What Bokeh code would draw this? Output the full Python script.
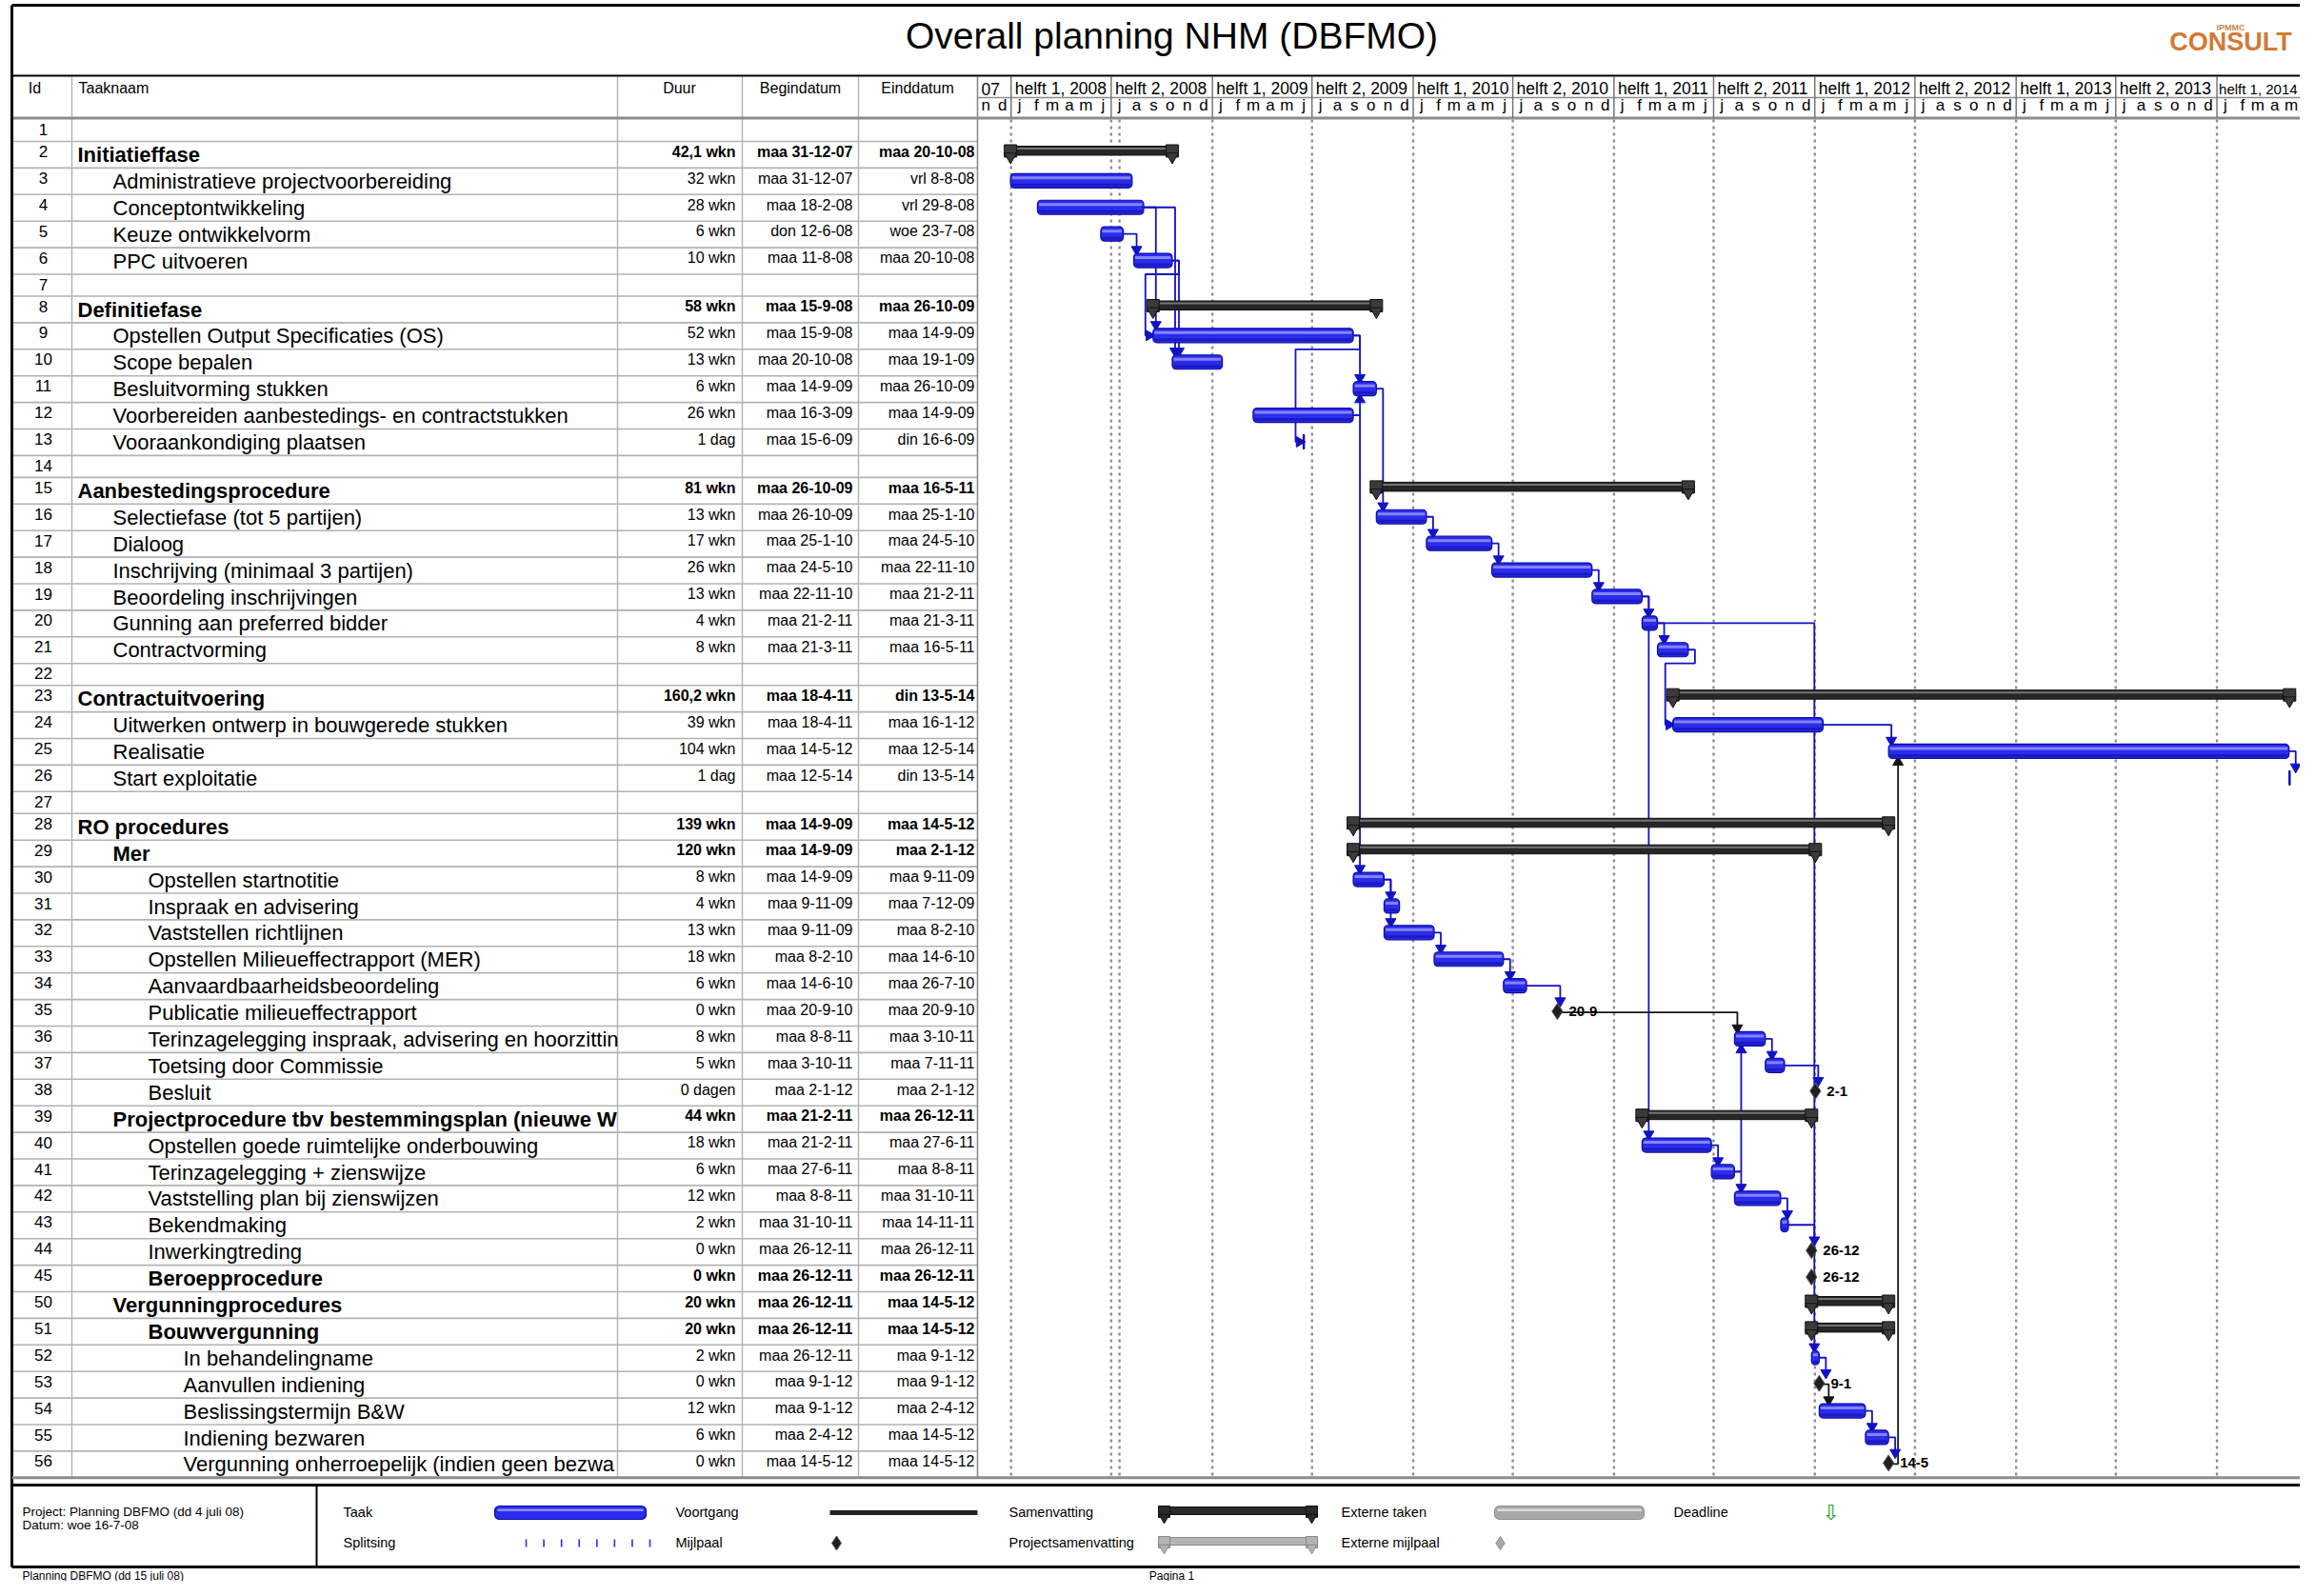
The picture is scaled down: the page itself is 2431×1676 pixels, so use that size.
import datetime as dt
import numpy as np
from bokeh.plotting import figure
from bokeh.models import Range1d
from bokeh.core.properties import value
from bokeh.embed import file_html
from bokeh.resources import INLINE

# ---------------------------------------------------------------- data
TITLE = "Overall planning NHM (DBFMO)"
COLUMN_HEADERS = ["Id", "Taaknaam", "Duur", "Begindatum", "Einddatum"]

TASK_IDS = [1, 2, 3, 4, 5, 6, 7, 8, 9, 10, 11, 12, 13, 14, 15, 16, 17, 18, 19, 20,
            21, 22, 23, 24, 25, 26, 27, 28, 29, 30, 31, 32, 33, 34, 35, 36, 37, 38,
            39, 40, 41, 42, 43, 44, 45, 50, 51, 52, 53, 54, 55, 56]
TASK_NAMES = [
    "", "Initiatieffase", "Administratieve projectvoorbereiding", "Conceptontwikkeling",
    "Keuze ontwikkelvorm", "PPC uitvoeren", "", "Definitiefase",
    "Opstellen Output Specificaties (OS)", "Scope bepalen", "Besluitvorming stukken",
    "Voorbereiden aanbestedings- en contractstukken", "Vooraankondiging plaatsen", "",
    "Aanbestedingsprocedure", "Selectiefase (tot 5 partijen)", "Dialoog",
    "Inschrijving (minimaal 3 partijen)", "Beoordeling inschrijvingen",
    "Gunning aan preferred bidder", "Contractvorming", "", "Contractuitvoering",
    "Uitwerken ontwerp in bouwgerede stukken", "Realisatie", "Start exploitatie", "",
    "RO procedures", "Mer", "Opstellen startnotitie", "Inspraak en advisering",
    "Vaststellen richtlijnen", "Opstellen Milieueffectrapport (MER)",
    "Aanvaardbaarheidsbeoordeling", "Publicatie milieueffectrapport",
    "Terinzagelegging inspraak, advisering en hoorzittin", "Toetsing door Commissie",
    "Besluit", "Projectprocedure tbv bestemmingsplan (nieuwe W",
    "Opstellen goede ruimtelijke onderbouwing", "Terinzagelegging + zienswijze",
    "Vaststelling plan bij zienswijzen", "Bekendmaking", "Inwerkingtreding",
    "Beroepprocedure", "Vergunningprocedures", "Bouwvergunning", "In behandelingname",
    "Aanvullen indiening", "Beslissingstermijn B&W", "Indiening bezwaren",
    "Vergunning onherroepelijk (indien geen bezwa"]
TASK_LEVELS = [0, 1, 2, 2, 2, 2, 0, 1, 2, 2, 2, 2, 2, 0, 1, 2, 2, 2, 2, 2, 2, 0, 1, 2, 2, 2,
               0, 1, 2, 3, 3, 3, 3, 3, 3, 3, 3, 3, 2, 3, 3, 3, 3, 3, 3, 2, 3, 4, 4, 4, 4, 4]
TASK_KINDS = ["blank", "summary", "task", "task", "task", "task", "blank", "summary",
              "task", "task", "task", "task", "task", "blank", "summary", "task", "task",
              "task", "task", "task", "task", "blank", "summary", "task", "task", "task",
              "blank", "summary", "summary", "task", "task", "task", "task", "task",
              "milestone", "task", "task", "milestone", "summary", "task", "task", "task",
              "task", "milestone", "milestone", "summary", "summary", "task", "milestone",
              "task", "task", "milestone"]
BOLD_EXTRA_IDS = [45]
DURATIONS = ["", "42,1 wkn", "32 wkn", "28 wkn", "6 wkn", "10 wkn", "", "58 wkn", "52 wkn",
             "13 wkn", "6 wkn", "26 wkn", "1 dag", "", "81 wkn", "13 wkn", "17 wkn", "26 wkn",
             "13 wkn", "4 wkn", "8 wkn", "", "160,2 wkn", "39 wkn", "104 wkn", "1 dag", "",
             "139 wkn", "120 wkn", "8 wkn", "4 wkn", "13 wkn", "18 wkn", "6 wkn", "0 wkn",
             "8 wkn", "5 wkn", "0 dagen", "44 wkn", "18 wkn", "6 wkn", "12 wkn", "2 wkn",
             "0 wkn", "0 wkn", "20 wkn", "20 wkn", "2 wkn", "0 wkn", "12 wkn", "6 wkn", "0 wkn"]
BEGIN_LABELS = ["", "maa 31-12-07", "maa 31-12-07", "maa 18-2-08", "don 12-6-08", "maa 11-8-08",
                "", "maa 15-9-08", "maa 15-9-08", "maa 20-10-08", "maa 14-9-09", "maa 16-3-09",
                "maa 15-6-09", "", "maa 26-10-09", "maa 26-10-09", "maa 25-1-10", "maa 24-5-10",
                "maa 22-11-10", "maa 21-2-11", "maa 21-3-11", "", "maa 18-4-11", "maa 18-4-11",
                "maa 14-5-12", "maa 12-5-14", "", "maa 14-9-09", "maa 14-9-09", "maa 14-9-09",
                "maa 9-11-09", "maa 9-11-09", "maa 8-2-10", "maa 14-6-10", "maa 20-9-10",
                "maa 8-8-11", "maa 3-10-11", "maa 2-1-12", "maa 21-2-11", "maa 21-2-11",
                "maa 27-6-11", "maa 8-8-11", "maa 31-10-11", "maa 26-12-11", "maa 26-12-11",
                "maa 26-12-11", "maa 26-12-11", "maa 26-12-11", "maa 9-1-12", "maa 9-1-12",
                "maa 2-4-12", "maa 14-5-12"]
END_LABELS = ["", "maa 20-10-08", "vrl 8-8-08", "vrl 29-8-08", "woe 23-7-08", "maa 20-10-08",
              "", "maa 26-10-09", "maa 14-9-09", "maa 19-1-09", "maa 26-10-09", "maa 14-9-09",
              "din 16-6-09", "", "maa 16-5-11", "maa 25-1-10", "maa 24-5-10", "maa 22-11-10",
              "maa 21-2-11", "maa 21-3-11", "maa 16-5-11", "", "din 13-5-14", "maa 16-1-12",
              "maa 12-5-14", "din 13-5-14", "", "maa 14-5-12", "maa 2-1-12", "maa 9-11-09",
              "maa 7-12-09", "maa 8-2-10", "maa 14-6-10", "maa 26-7-10", "maa 20-9-10",
              "maa 3-10-11", "maa 7-11-11", "maa 2-1-12", "maa 26-12-11", "maa 27-6-11",
              "maa 8-8-11", "maa 31-10-11", "maa 14-11-11", "maa 26-12-11", "maa 26-12-11",
              "maa 14-5-12", "maa 14-5-12", "maa 9-1-12", "maa 9-1-12", "maa 2-4-12",
              "maa 14-5-12", "maa 14-5-12"]
MILESTONE_IDS = [35, 38, 44, 45, 53, 56]
MILESTONE_LABELS = ["20-9", "2-1", "26-12", "26-12", "9-1", "14-5"]
LINKS = [(4, 9), (4, 10), (5, 6), (6, 9), (6, 10), (9, 11), (12, 11), (9, 13), (11, 16),
         (12, 30), (16, 17), (17, 18), (18, 19), (19, 20), (19, 40), (20, 21), (21, 24),
         (20, 52), (24, 25), (25, 26), (30, 31), (30, 32), (32, 33), (33, 34), (34, 35),
         (35, 36), (36, 37), (37, 38), (40, 41), (41, 42), (41, 36), (42, 43), (43, 44),
         (52, 53), (53, 54), (54, 55), (55, 56), (56, 25)]

HALF_LABELS = ["07", "helft 1, 2008", "helft 2, 2008", "helft 1, 2009", "helft 2, 2009",
               "helft 1, 2010", "helft 2, 2010", "helft 1, 2011", "helft 2, 2011",
               "helft 1, 2012", "helft 2, 2012", "helft 1, 2013", "helft 2, 2013",
               "helft 1, 2014"]
HALF_STARTS = ["2007-11-01", "2008-01-01", "2008-07-01", "2009-01-01", "2009-07-01",
               "2010-01-01", "2010-07-01", "2011-01-01", "2011-07-01", "2012-01-01",
               "2012-07-01", "2013-01-01", "2013-07-01", "2014-01-01"]
TIMESCALE_END = "2014-07-01"
MONTH_LETTERS = ["j", "f", "m", "a", "m", "j", "j", "a", "s", "o", "n", "d"]
STATUS_DATE = "2008-07-16"

PROJECT_INFO = ["Project: Planning DBFMO (dd 4 juli 08)", "Datum: woe 16-7-08"]
LEGEND_ROW1 = ["Taak", "Voortgang", "Samenvatting", "Externe taken", "Deadline"]
LEGEND_ROW2 = ["Splitsing", "Mijlpaal", "Projectsamenvatting", "Externe mijlpaal"]
FOOTER_LEFT = "Planning DBFMO (dd 15 juli 08)"
FOOTER_CENTER = "Pagina 1"
LOGO = "CONSULT"
LOGO_TOP = "IPMMC"

# ---------------------------------------------------------------- layout / style
W, H = 2415, 1660
PAGE_L = 12
COL_X = [12, 75, 648, 779, 901, 1026]
GANTT_X0 = 1026
GANTT_ORIGIN = dt.datetime(2007, 11, 1)
PX_PER_YEAR = 211.0
MS_PER_PX = 365.2425 * 86400000.0 / PX_PER_YEAR
HEADER_TOP, HEADER_MID, HEADER_BOTTOM = 80, 102, 123
ROWS_TOP = 125.0
ROW_H, BLANK_H = 27.9, 23.0
RIGHT = W
BOX_TOP, BOX_BOTTOM = 1559, 1645

FONT = "'Liberation Sans', Arial, sans-serif"

TASK_FILL, TASK_LINE, TASK_HI, TASK_LO = "#2C2CEC", "#0B0BA8", "#8E8EFF", "#1B1BC2"
SUM_FILL, SUM_HI = "#262626", "#8A8A8A"
LINK_BLUE, LINK_BLACK = "#1212C4", "#151515"
GRID_C = "#8E8E8E"
TBL_C = "#B2B2B2"


def parse_label(lbl):
    d, m, y = (int(v) for v in lbl.split()[-1].split("-"))
    return dt.datetime(2000 + y, m, d)


EPOCH = dt.datetime(1970, 1, 1)


def to_ms(d):
    return (d - EPOCH).total_seconds() * 1000.0


n = len(TASK_IDS)
row_h = [BLANK_H if k == "blank" else ROW_H for k in TASK_KINDS]
row_top = []
yy = ROWS_TOP
for h in row_h:
    row_top.append(yy)
    yy += h
ROWS_BOTTOM = yy
center = [t + h / 2.0 - 0.5 for t, h in zip(row_top, row_h)]
idx = {tid: i for i, tid in enumerate(TASK_IDS)}
start_ms = [to_ms(parse_label(b)) if b else None for b in BEGIN_LABELS]
end_ms = [to_ms(parse_label(e)) if e else None for e in END_LABELS]
is_bold = [(k == "summary") or (tid in BOLD_EXTRA_IDS) for k, tid in zip(TASK_KINDS, TASK_IDS)]

# ---------------------------------------------------------------- figure
p = figure(width=W, height=H, x_range=Range1d(0, W), y_range=Range1d(H, 0),
           output_backend="svg", toolbar_location=None, min_border=0, title_location=None,
           x_axis_location=None, y_axis_location=None, outline_line_color=None,
           background_fill_color="white", border_fill_color="white")
p.grid.grid_line_color = None
t0 = to_ms(GANTT_ORIGIN)
p.extra_x_ranges = {"time": Range1d(t0 - GANTT_X0 * MS_PER_PX, t0 + (W - GANTT_X0) * MS_PER_PX)}
T = "time"
px = MS_PER_PX


def seg(x0, y0, x1, y1, color, width, dash="solid", xr=None):
    kw = dict(line_color=color, line_width=width, line_dash=dash)
    if xr:
        kw["x_range_name"] = xr
    p.segment(x0=list(x0), y0=list(y0), x1=list(x1), y1=list(y1), **kw)


def txt(x, y, text, size, font=FONT, style="normal", align="left", color="black",
        xr=None, x_offset=0):
    # y is the visual middle of the text line
    kw = dict(text_font=value(font), text_font_size=size, text_font_style=style,
              text_align=align, text_baseline="alphabetic", text_color=color, x_offset=x_offset)
    if xr:
        kw["x_range_name"] = xr
    p.text(x=list(x), y=list(y), text=list(text), **kw)


# ---------------------------------------------------------------- time scale helpers
half_ms = [to_ms(dt.datetime.fromisoformat(s)) for s in HALF_STARTS]
months = []
m = GANTT_ORIGIN
end_scale = dt.datetime.fromisoformat(TIMESCALE_END)
while m < end_scale:
    months.append(m)
    m = dt.datetime(m.year + (m.month // 12), m.month % 12 + 1, 1)
t_right = p.extra_x_ranges["time"].end
month_mid = [to_ms(mm) + 15.2 * 86400000 for mm in months]
vis = [k for k, x in enumerate(month_mid) if x < t_right - 7 * px]

# body grid lines (half years) and status date
nh = len(half_ms) - 1
seg(half_ms[1:], [ROWS_TOP] * nh, half_ms[1:], [ROWS_BOTTOM] * nh, GRID_C, 2.4, "3 4", xr=T)
sd = to_ms(dt.datetime.fromisoformat(STATUS_DATE))
seg([sd], [ROWS_TOP], [sd], [ROWS_BOTTOM], GRID_C, 2.4, "3 4", xr=T)

# ---------------------------------------------------------------- page frame & table grid
rb = [t + h for t, h in zip(row_top, row_h)]
seg([COL_X[0]] * n, rb, [COL_X[-1]] * n, rb, TBL_C, 1.6)
seg(COL_X[1:5], [HEADER_TOP] * 4, COL_X[1:5], [ROWS_BOTTOM] * 4, TBL_C, 1.4)
seg([GANTT_X0], [HEADER_TOP], [GANTT_X0], [ROWS_BOTTOM], "#8A8A8A", 1.6)
seg([PAGE_L], [HEADER_BOTTOM + 0.5], [RIGHT], [HEADER_BOTTOM + 0.5], "#8C8C8C", 3)
seg([GANTT_X0], [HEADER_MID], [RIGHT], [HEADER_MID], "#8C8C8C", 1.4)
seg(half_ms[1:], [HEADER_TOP] * nh, half_ms[1:], [HEADER_BOTTOM] * nh, "#6E6E6E", 1.4, xr=T)
seg([PAGE_L], [5], [RIGHT], [5], "black", 3)
seg([PAGE_L], [HEADER_TOP - 1], [RIGHT], [HEADER_TOP - 1], "black", 2.2)
seg([PAGE_L], [5], [PAGE_L], [BOX_BOTTOM], "black", 3)
seg([PAGE_L], [ROWS_BOTTOM], [RIGHT], [ROWS_BOTTOM], "#8C8C8C", 3)
seg([PAGE_L], [BOX_TOP], [RIGHT], [BOX_TOP], "black", 3)
seg([PAGE_L], [BOX_BOTTOM], [RIGHT], [BOX_BOTTOM], "black", 3)
seg([332], [BOX_TOP], [332], [BOX_BOTTOM], "black", 2)

# ---------------------------------------------------------------- title and logo
txt([1230], [37], [TITLE], "39px", align="center")
txt([2342], [28], [LOGO_TOP], "9px", style="bold", align="center", color="#C9864A")
txt([2342], [43], [LOGO], "27px", style="bold", align="center", color="#D27A35")

# ---------------------------------------------------------------- table header
txt([36], [91.5], [COLUMN_HEADERS[0]], "16px", align="center")
txt([82], [91.5], [COLUMN_HEADERS[1]], "16px")
txt([713, 840, 963], [91.5] * 3, COLUMN_HEADERS[2:], "16px", align="center")

# ---------------------------------------------------------------- timescale header
txt(half_ms[:-1], [92.5] * (len(half_ms) - 1), HALF_LABELS[:-1], "17.5px", xr=T, x_offset=4)
txt(half_ms[-1:], [92.5], HALF_LABELS[-1:], "15px", xr=T, x_offset=2)
txt([month_mid[k] for k in vis], [110] * len(vis),
    [MONTH_LETTERS[months[k].month - 1] for k in vis], "17px", align="center", xr=T)

# ---------------------------------------------------------------- table body text
txt([45] * n, [t + 10.5 for t in row_top], [str(t) for t in TASK_IDS], "17px", align="center")
for bold in (False, True):
    sel = [i for i in range(n) if TASK_KINDS[i] != "blank" and is_bold[i] == bold]
    st = "bold" if bold else "normal"
    txt([81 + (TASK_LEVELS[i] - 1) * 37 for i in sel], [row_top[i] + 14 for i in sel],
        [TASK_NAMES[i] for i in sel], "22px", style=st)
    txt([772] * len(sel), [row_top[i] + 10.7 for i in sel], [DURATIONS[i] for i in sel],
        "16px", style=st, align="right")
    txt([895] * len(sel), [row_top[i] + 10.7 for i in sel], [BEGIN_LABELS[i] for i in sel],
        "16px", style=st, align="right")
    txt([1023] * len(sel), [row_top[i] + 10.7 for i in sel], [END_LABELS[i] for i in sel],
        "16px", style=st, align="right")

# ---------------------------------------------------------------- links
blue_xs, blue_ys, black_xs, black_ys = [], [], [], []
arrows = {("down", LINK_BLUE): [], ("down", LINK_BLACK): [], ("up", LINK_BLUE): [],
          ("up", LINK_BLACK): [], ("right", LINK_BLUE): [], ("right", LINK_BLACK): []}
for a, b in LINKS:
    i, j = idx[a], idx[b]
    pred_m = TASK_KINDS[i] == "milestone"
    succ_m = TASK_KINDS[j] == "milestone"
    col = LINK_BLACK if pred_m else LINK_BLUE
    pe, ss = end_ms[i], start_ms[j]
    yp, ys = center[i], center[j]
    d = 1 if ys > yp else -1
    half = 8.0 if succ_m else 7.5
    if ss >= pe:
        xd = max(ss + 3 * px, pe + (10 if pred_m else 7) * px)
        xs_ = [pe, xd, xd]
        ys_ = [yp, yp, ys - d * (half + 3)]
        arrows[("down" if d > 0 else "up", col)].append((xd, ys - d * (half + 4)))
    else:
        xr_ = pe + 7 * px
        yb = row_top[i] + row_h[i] if d > 0 else row_top[i]
        xl = ss - 8 * px
        xs_ = [pe, xr_, xr_, xl, xl, ss - 4 * px]
        ys_ = [yp, yp, yb, yb, ys, ys]
        arrows[("right", col)].append((ss - 4 * px, ys))
    if col == LINK_BLUE:
        blue_xs.append(xs_); blue_ys.append(ys_)
    else:
        black_xs.append(xs_); black_ys.append(ys_)
p.multi_line(xs=blue_xs, ys=blue_ys, line_color=LINK_BLUE, line_width=1.8, x_range_name=T)
p.multi_line(xs=black_xs, ys=black_ys, line_color=LINK_BLACK, line_width=1.8, x_range_name=T)
for (kind, col), pts in arrows.items():
    if not pts:
        continue
    mk = {"down": "inverted_triangle", "up": "triangle", "right": "triangle"}[kind]
    ang = -np.pi / 2 if kind == "right" else 0.0
    p.scatter(x=[q[0] for q in pts], y=[q[1] for q in pts], marker=mk, size=11, angle=ang,
              fill_color=col, line_color=col, x_range_name=T)

# ---------------------------------------------------------------- task bars
ti = [i for i in range(n) if TASK_KINDS[i] == "task"]
L = [start_ms[i] for i in ti]
R = [max(end_ms[i], start_ms[i] + 1.2 * px) for i in ti]
C = [center[i] for i in ti]
p.quad(left=L, right=R, top=[c - 7.5 for c in C], bottom=[c + 7.5 for c in C],
       fill_color=TASK_FILL, line_color=TASK_LINE, line_width=1.2, border_radius=4,
       x_range_name=T)
LL = [l + 1.5 * px for l in L]
RR = [max(r - 1.5 * px, l + 1.5 * px) for l, r in zip(L, R)]
p.quad(left=LL, right=RR, top=[c - 4.5 for c in C], bottom=[c - 1.5 for c in C],
       fill_color=TASK_HI, line_color=None, fill_alpha=0.9, x_range_name=T)
p.quad(left=LL, right=RR, top=[c + 3.0 for c in C], bottom=[c + 6.0 for c in C],
       fill_color=TASK_LO, line_color=None, x_range_name=T)

# ---------------------------------------------------------------- summary bars
si = [i for i in range(n) if TASK_KINDS[i] == "summary"]
SL = [start_ms[i] for i in si]
SR = [end_ms[i] for i in si]
ST = [row_top[i] for i in si]
p.quad(left=SL, right=SR, top=[t + 5 for t in ST], bottom=[t + 14.5 for t in ST],
       fill_color=SUM_FILL, line_color="#111111", line_width=1, x_range_name=T)
p.quad(left=SL, right=SR, top=[t + 6.5 for t in ST], bottom=[t + 8.5 for t in ST],
       fill_color=SUM_HI, line_color=None, fill_alpha=0.8, x_range_name=T)
cap_x = SL + SR
cap_t = ST + ST
p.scatter(x=cap_x, y=[t + 10 for t in cap_t], marker="square", size=13, fill_color="#3A3A3A",
          line_color="#111111", x_range_name=T)
p.scatter(x=cap_x, y=[t + 16 for t in cap_t], marker="inverted_triangle", size=13,
          fill_color="#3A3A3A", line_color="#111111", x_range_name=T)

# ---------------------------------------------------------------- milestones
mi = [idx[t] for t in MILESTONE_IDS]
MX = [start_ms[i] for i in mi]
MY = [row_top[i] + 12.5 for i in mi]
p.scatter(x=MX, y=MY, marker="diamond", size=17, fill_color="#202020", line_color="#5A5A5A",
          x_range_name=T)
txt(MX, MY, MILESTONE_LABELS, "15px", style="bold", xr=T, x_offset=12)

# ---------------------------------------------------------------- legend box
txt([23, 23], [1587, 1601], PROJECT_INFO, "13.5px")
R1, R2 = 1588, 1620
txt([360, 709, 1059, 1408, 1757], [R1 - 1] * 5, LEGEND_ROW1, "14.5px")
txt([360, 709, 1059, 1408], [R2 - 1] * 4, LEGEND_ROW2, "14.5px")
p.quad(left=[519], right=[678], top=[R1 - 7], bottom=[R1 + 7], fill_color=TASK_FILL,
       line_color=TASK_LINE, line_width=1.2, border_radius=5)
p.quad(left=[522], right=[675], top=[R1 - 4], bottom=[R1 - 1.5], fill_color=TASK_HI,
       line_color=None)
sx = list(np.linspace(552, 682, 8))
seg(sx, [R2 - 4] * 8, sx, [R2 + 4] * 8, TASK_FILL, 1.6)
seg([871], [R1], [1026], [R1], "#222222", 5)
p.scatter(x=[878], y=[R2], marker="diamond", size=15, fill_color="#202020", line_color="#5A5A5A")
for fillc, linec, yc in (("#2A2A2A", "#111111", R1), ("#B4B4B4", "#8A8A8A", R2)):
    p.quad(left=[1222], right=[1377], top=[yc - 6], bottom=[yc + 2], fill_color=fillc,
           line_color=linec)
    p.scatter(x=[1222, 1377], y=[yc - 1, yc - 1], marker="square", size=12, fill_color=fillc,
              line_color=linec)
    p.scatter(x=[1222, 1377], y=[yc + 5, yc + 5], marker="inverted_triangle", size=11,
              fill_color=fillc, line_color=linec)
p.quad(left=[1569], right=[1726], top=[R1 - 7], bottom=[R1 + 7], fill_color="#A8A8A8",
       line_color="#8A8A8A", border_radius=5)
p.quad(left=[1572], right=[1723], top=[R1 - 4], bottom=[R1 - 1.5], fill_color="#DCDCDC",
       line_color=None)
p.scatter(x=[1575], y=[R2], marker="diamond", size=14, fill_color="#A8A8A8", line_color="#8A8A8A")
txt([1922], [R1], ["\u21e9"], "22px", font="DejaVu Sans", align="center", color="#22A022")

# ---------------------------------------------------------------- footer
txt([23], [1654], [FOOTER_LEFT], "12px")
txt([1230], [1654], [FOOTER_CENTER], "12px", align="center")

open("out.html", "w").write(file_html(p, INLINE))
